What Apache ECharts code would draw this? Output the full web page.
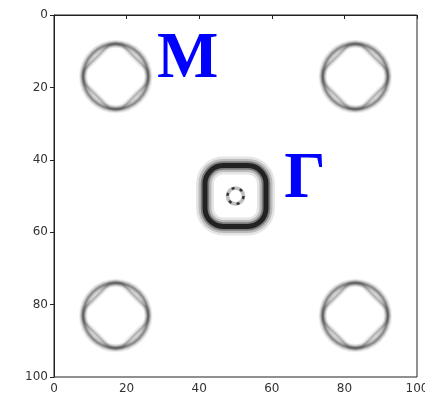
<!DOCTYPE html>
<html>
<head>
<meta charset="utf-8">
<script src="https://cdn.jsdelivr.net/npm/echarts@6/dist/echarts.min.js"></script>
<style>
  html, body { margin: 0; padding: 0; background: #fff; }
  #chart { width: 425px; height: 401px; }
</style>
</head>
<body>
<div id="chart"></div>
<script>
// Axis ticks (pixel index of the k-grid)
const xTicks = [0, 20, 40, 60, 80, 100];
const yTicks = [0, 20, 40, 60, 80, 100];

// Electron pockets at the zone corners (M): centre x, centre y
const mCenters = [[17, 17], [83, 17], [17, 83], [83, 83]];
const mRadius = 9.0;          // outer circular sheet radius
const mDiamondScale = 0.83;   // inner rounded-diamond sheet, flat side / radius

// Hole pocket at the zone centre (Γ)
const gCenter = [50, 50];
const gHalf = 8.4;            // half side of rounded-square sheet
const gCorner = 5.0;          // corner radius
const gInnerRadius = 2.2;     // small inner pocket radius

// Point labels: text, x, y
const labels = [['M', 28.4, 12.6], ['Γ', 63.4, 45.6]];

// Blurred stroke built from stacked translucent strokes: [width factor, opacity]
function layers(base, profile, shapeType, shape, extra) {
  return profile.map(function (p) {
    return Object.assign({
      type: shapeType,
      shape: shape,
      silent: true,
      style: { fill: null, stroke: '#000', lineWidth: base * p[0], opacity: p[1] }
    }, extra || {});
  });
}

const mCircleProfile = [[4.0, 0.06], [3.0, 0.09], [2.0, 0.13], [1.25, 0.15], [0.6, 0.14]];
const mDiamondProfile = [[3.4, 0.035], [2.5, 0.06], [1.6, 0.08], [1.0, 0.09], [0.5, 0.08]];
const gProfile = [[4.0, 0.10], [2.9, 0.18], [1.9, 0.34], [1.1, 0.72]];

const chart = echarts.init(document.getElementById('chart'), null, { renderer: 'canvas' });

chart.setOption({
  animation: false,
  backgroundColor: '#fff',
  grid: {
    left: 54, right: 8, top: 15, bottom: 24,
    outerBoundsMode: 'none',
    containLabel: false,
    show: true, borderColor: '#222', borderWidth: 1, backgroundColor: '#fff'
  },
  xAxis: {
    type: 'value', min: 0, max: 100, interval: 20,
    axisLine: { show: true, lineStyle: { color: '#222', width: 1 } },
    axisTick: { show: true, inside: false, length: 4, lineStyle: { color: '#222' } },
    axisLabel: {
      color: '#333', fontSize: 12, fontFamily: 'DejaVu Sans', margin: 6,
      hideOverlap: false,
      formatter: function (v) { return xTicks.indexOf(v) >= 0 ? String(v) : ''; }
    },
    splitLine: { show: false }
  },
  yAxis: {
    type: 'value', min: 0, max: 100, interval: 20, inverse: true,
    axisLine: { show: true, lineStyle: { color: '#222', width: 1 } },
    axisTick: { show: true, inside: false, length: 4, lineStyle: { color: '#222' } },
    axisLabel: {
      color: '#333', fontSize: 12, fontFamily: 'DejaVu Sans', margin: 6,
      formatter: function (v) { return yTicks.indexOf(v) >= 0 ? String(v) : ''; }
    },
    splitLine: { show: false }
  },
  series: [
    {
      // M pockets: circle + rounded diamond
      type: 'custom',
      coordinateSystem: 'cartesian2d',
      data: mCenters,
      clip: true,
      renderItem: function (params, api) {
        const c = api.coord([api.value(0), api.value(1)]);
        const s = api.size([mRadius, mRadius]);
        const r = (s[0] + s[1]) / 2;
        const side = 2 * mDiamondScale * r;
        const corner = (mDiamondScale * Math.SQRT2 - 1) / (Math.SQRT2 - 1) * r;
        const children = []
          .concat(layers(2.1, mCircleProfile, 'circle', { cx: c[0], cy: c[1], r: r }))
          .concat(layers(2.1, mDiamondProfile, 'rect',
            { x: -side / 2, y: -side / 2, width: side, height: side, r: corner },
            { x: c[0], y: c[1], rotation: Math.PI / 4 }));
        return { type: 'group', children: children };
      }
    },
    {
      // Γ pocket: rounded square + small inner ring
      type: 'custom',
      coordinateSystem: 'cartesian2d',
      data: [gCenter],
      clip: true,
      renderItem: function (params, api) {
        const c = api.coord([api.value(0), api.value(1)]);
        const h = api.size([gHalf, gHalf]);
        const k = api.size([gCorner, gCorner]);
        const ri = api.size([gInnerRadius, gInnerRadius]);
        const rr = (ri[0] + ri[1]) / 2;
        const children = layers(4.5, gProfile, 'rect',
          { x: c[0] - h[0], y: c[1] - h[1], width: 2 * h[0], height: 2 * h[1], r: (k[0] + k[1]) / 2 })
          .concat([
            { type: 'circle', shape: { cx: c[0], cy: c[1], r: rr },
              style: { fill: null, stroke: '#000', lineWidth: 3.6, opacity: 0.25 } },
            { type: 'circle', shape: { cx: c[0], cy: c[1], r: rr },
              style: { fill: null, stroke: '#000', lineWidth: 2.4, opacity: 0.75,
                       lineDash: [3, 2 * Math.PI * rr / 6 - 3] } }
          ]);
        return { type: 'group', children: children };
      }
    },
    {
      // High-symmetry point labels
      type: 'custom',
      coordinateSystem: 'cartesian2d',
      data: labels.map(function (l) { return [l[1], l[2]]; }),
      clip: false,
      z: 10,
      renderItem: function (params, api) {
        const c = api.coord([api.value(0), api.value(1)]);
        return {
          type: 'text',
          style: {
            text: labels[params.dataIndex][0],
            x: c[0], y: c[1],
            align: 'left', verticalAlign: 'middle',
            font: 'bold 65px "Liberation Serif", "DejaVu Serif", serif',
            fill: '#0000ff'
          }
        };
      }
    }
  ]
});
</script>
</body>
</html>
